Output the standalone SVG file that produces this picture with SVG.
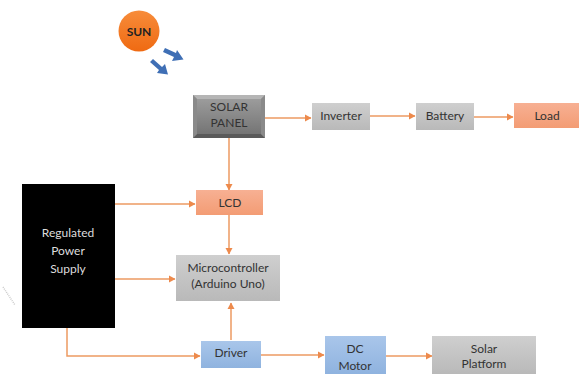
<svg xmlns="http://www.w3.org/2000/svg" width="579" height="374" viewBox="0 0 579 374">
<style>
text{font-family:Lato,"Open Sans","Liberation Sans",sans-serif;font-size:12px;fill:#333;text-anchor:middle}
.c{fill:none;stroke:#ed9a62;stroke-width:1.500;marker-end:url(#a)}
.ray{fill:#3f6fb5}
</style>
<defs>
<marker id="a" markerUnits="userSpaceOnUse" markerWidth="7" markerHeight="8" refX="6" refY="4" orient="auto"><path d="M0 0.500L6.500 4L0 7.500z" fill="#ed8a4c"/></marker>
<linearGradient id="gr" x1="0" y1="0" x2="0" y2="1"><stop offset="0" stop-color="#cfcfcf"/><stop offset="1" stop-color="#b9b9b9"/></linearGradient>
<linearGradient id="or" x1="0" y1="0" x2="0" y2="1"><stop offset="0" stop-color="#f7b093"/><stop offset="1" stop-color="#f39c74"/></linearGradient>
<linearGradient id="bl" x1="0" y1="0" x2="0" y2="1"><stop offset="0" stop-color="#a9c6ea"/><stop offset="1" stop-color="#8fb3df"/></linearGradient>
<linearGradient id="sun" x1="0" y1="0" x2="0" y2="1"><stop offset="0" stop-color="#f78c3a"/><stop offset="1" stop-color="#ef6a12"/></linearGradient>
<linearGradient id="pn" x1="0" y1="0" x2="0" y2="1"><stop offset="0" stop-color="#a0a0a0"/><stop offset="1" stop-color="#707070"/></linearGradient>
</defs>
<g id="connectors">
<path class="c" d="M229 138V190"/>
<path class="c" d="M264 118H311"/>
<path class="c" d="M370 116H415"/>
<path class="c" d="M474 117H513"/>
<path class="c" d="M115 204H195"/>
<path class="c" d="M229 215V254"/>
<path class="c" d="M115 279H175"/>
<path class="c" d="M67 328V356H200"/>
<path class="c" d="M231 340V303"/>
<path class="c" d="M261 355H324"/>
<path class="c" d="M386 356H432"/>
</g>
<g id="sun-node"><circle cx="139" cy="31" r="20.500" fill="url(#sun)"/><text x="139" y="36" font-weight="700" style="fill:#222">SUN</text></g>
<g id="rays">
<path class="ray" d="M163 52L165 48L176 53L177 50L183.500 59.500L172 61L174 57Z"/>
<path class="ray" d="M150 62L153 59L162 67L165 64L168 74.500L157 73L159 70Z"/>
</g>
<g id="solar-panel"><rect x="193" y="95" width="72" height="43" fill="url(#pn)"/><path d="M193 95h72l-4 4h-64z" fill="#b5b5b5"/><path d="M193 138h72l-4-4h-64z" fill="#5a5a5a"/><path d="M193 95v43l4-4v-35zM265 95v43l-4-4v-35z" fill="#8a8a8a"/><text x="229" y="111">SOLAR</text><text x="229" y="127">PANEL</text></g>
<g id="inverter"><rect x="312" y="103" width="58" height="27" fill="url(#gr)"/><text x="341" y="120">Inverter</text></g>
<g id="battery"><rect x="416" y="103" width="58" height="27" fill="url(#gr)"/><text x="445" y="120">Battery</text></g>
<g id="load"><rect x="514" y="103" width="65" height="25" fill="url(#or)"/><text x="547" y="120">Load</text></g>
<g id="power"><rect x="22" y="184" width="93" height="144" fill="#000"/><text x="68" y="237" style="fill:#ddd">Regulated</text><text x="68" y="255" style="fill:#ddd">Power</text><text x="68" y="273" style="fill:#ddd">Supply</text></g>
<g id="lcd"><rect x="196" y="190" width="67" height="25" fill="url(#or)"/><text x="230" y="207">LCD</text></g>
<g id="mcu"><rect x="176" y="255" width="104" height="46" fill="url(#gr)"/><text x="228" y="272">Microcontroller</text><text x="228" y="288">(Arduino Uno)</text></g>
<g id="driver"><rect x="201" y="341" width="60" height="27" fill="url(#bl)"/><text x="231" y="357">Driver</text></g>
<g id="motor"><rect x="325" y="336" width="61" height="38" fill="url(#bl)"/><text x="355" y="353">DC</text><text x="355" y="370">Motor</text></g>
<g id="platform"><rect x="432" y="336" width="104" height="38" fill="url(#gr)"/><text x="484" y="353">Solar</text><text x="484" y="368">Platform</text></g>
<path d="M3 287L15 305" stroke="#ccc" stroke-width="1.500" stroke-dasharray="1 1" fill="none"/>
</svg>
